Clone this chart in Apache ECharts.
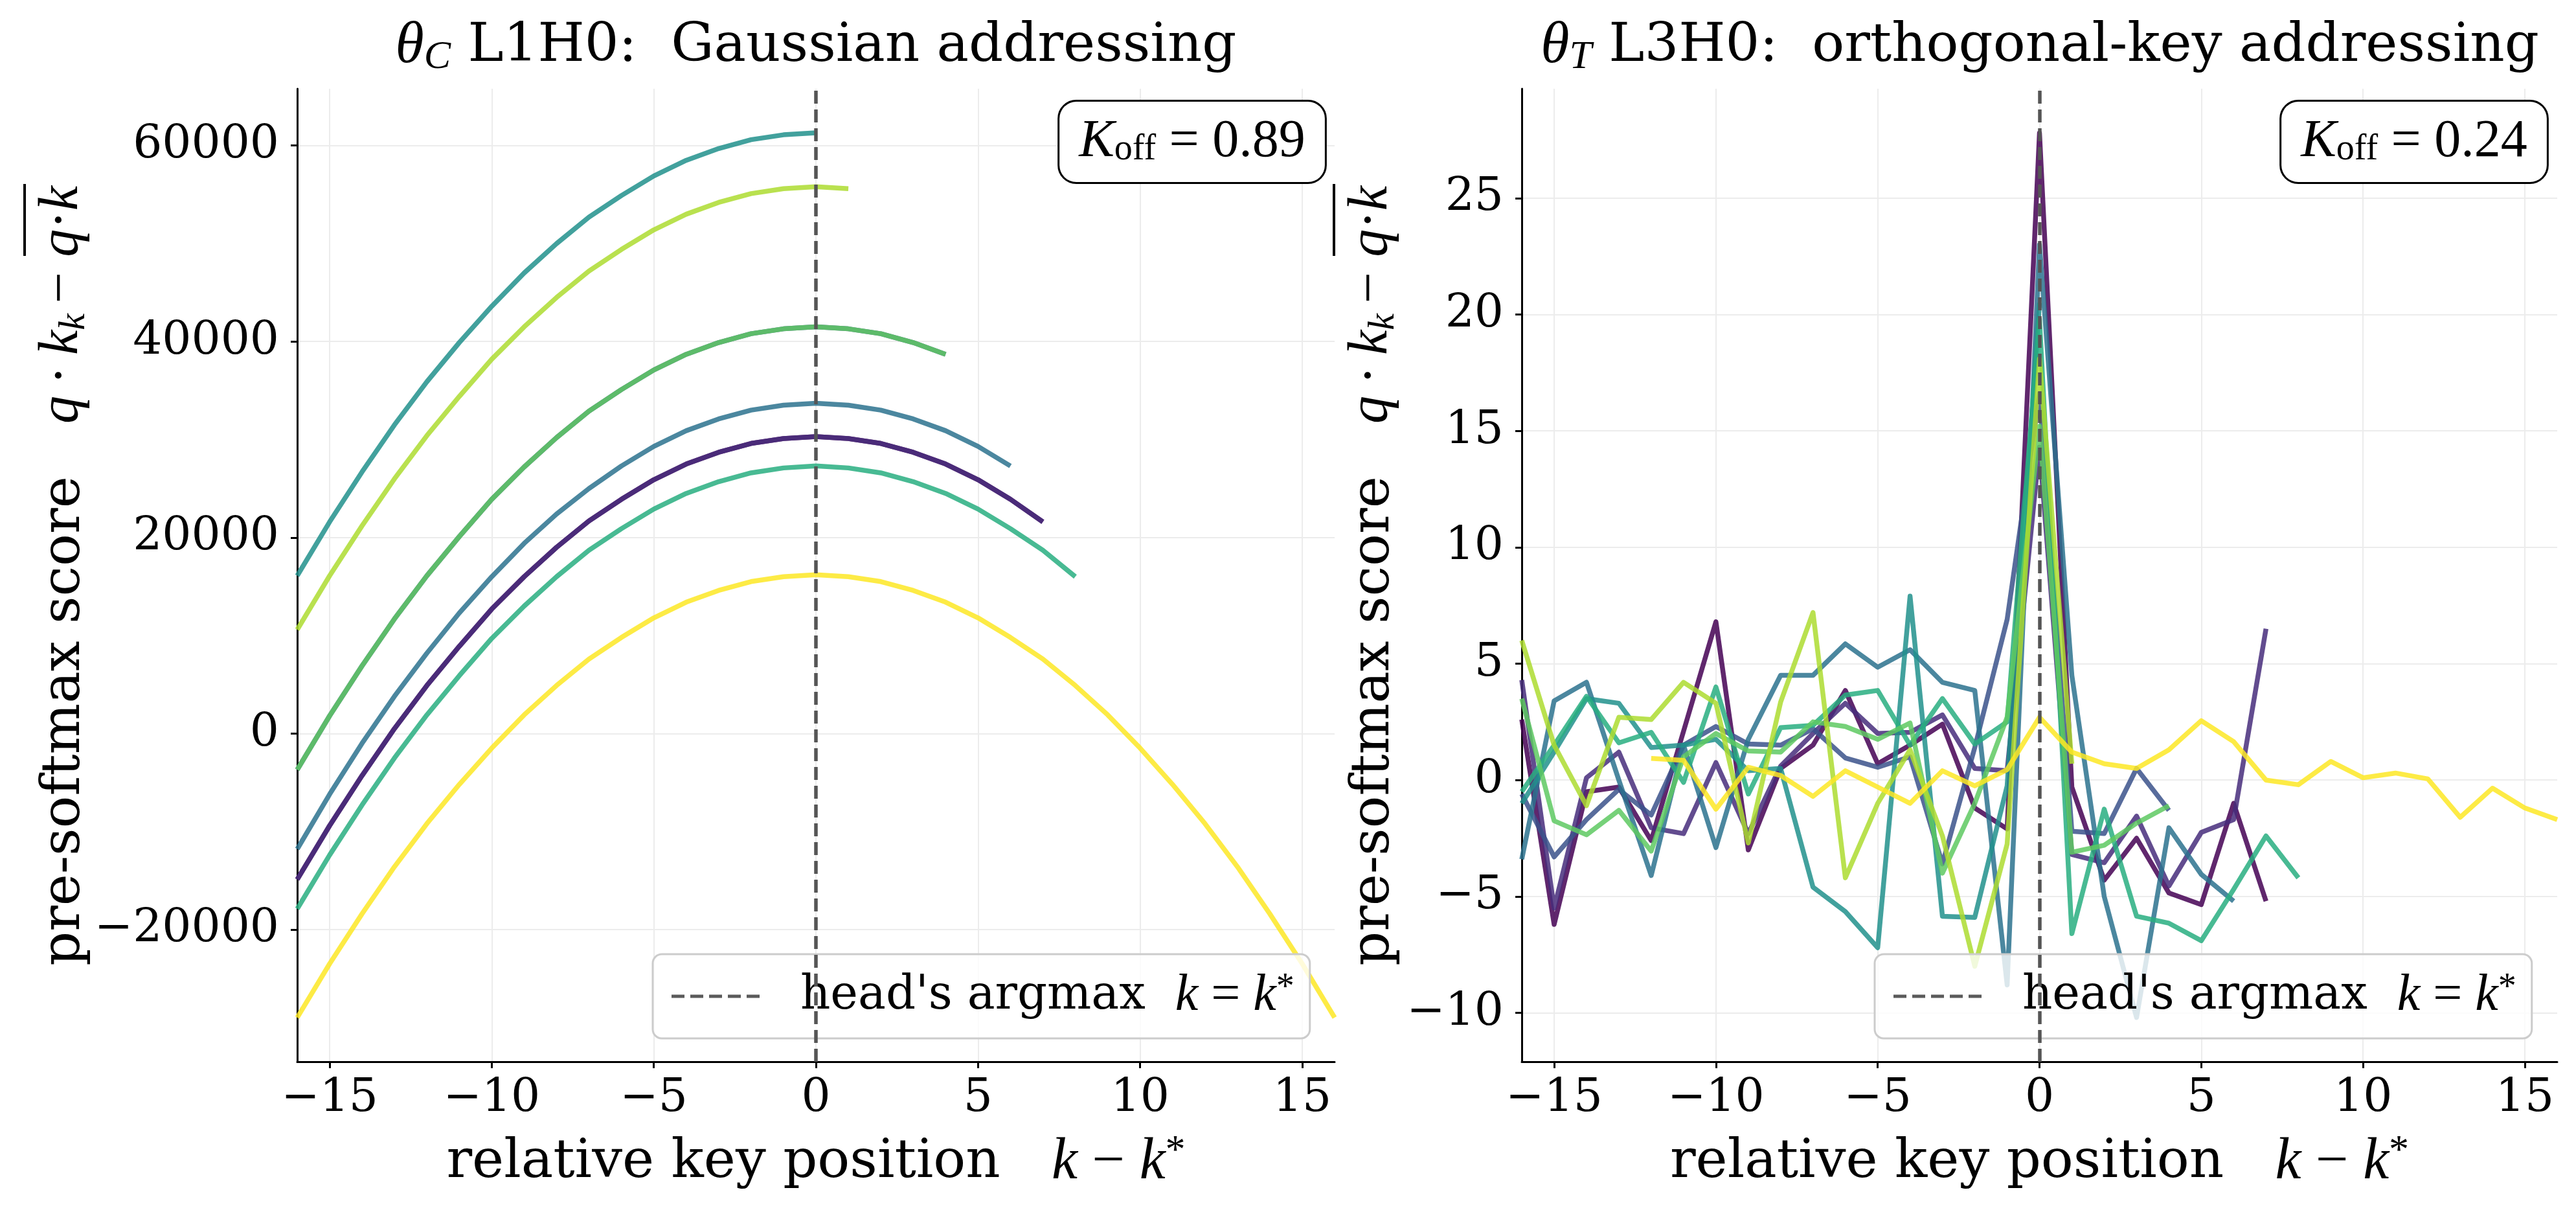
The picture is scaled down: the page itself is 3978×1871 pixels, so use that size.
<!DOCTYPE html>
<html>
<head>
<meta charset="UTF-8">
<script src="https://cdn.jsdelivr.net/npm/echarts@6/dist/echarts.min.js"></script>
<style>
  html, body { margin: 0; padding: 0; background: #fff; }
  #chart { width: 3978px; height: 1871px; }
</style>
</head>
<body>
<div id="chart"></div>
<script>
// relative key position k - k*
const keyPos = [-16,-15,-14,-13,-12,-11,-10,-9,-8,-7,-6,-5,-4,-3,-2,-1,0,1,2,3,4,5,6,7,8,9,10,11,12,13,14,15,16];
const argmaxPos = 0;

// left panel (theta_C L1H0), every curve starts at k-k* = -16
const leftC0 = [-14900,-9400,-4300,500,4900,8900,12700,16000,19000,21700,23900,25900,27500,28700,29600,30100,30300,30100,29600,28700,27500,25900,23900,21600];
const leftC1 = [-14900,-9400,-4300,500,4900,8900,12700,16000,19000,21700,23900,25900,27500,28700,29600,30100,30300,30100,29600,28700,27500,25900,23900,21600];
const leftC2 = [-3700,1800,6900,11700,16100,20100,23900,27200,30200,32900,35100,37100,38700,39900,40800,41300,41500,41300,40800,39900,38700];
const leftC3 = [-11800,-6200,-1000,3800,8200,12300,16000,19400,22400,25000,27300,29300,30900,32100,33000,33500,33700,33500,33000,32100,30900,29300,27300];
const leftC4 = [16100,21600,26700,31500,35900,39900,43600,47000,50000,52700,54900,56900,58500,59700,60600,61100,61300];
const leftC5 = [-17900,-12400,-7300,-2500,1900,5900,9700,13000,16000,18700,20900,22900,24500,25700,26600,27100,27300,27100,26600,25700,24500,22900,20900,18700,16000];
const leftC6 = [-3700,1800,6900,11700,16100,20100,23900,27200,30200,32900,35100,37100,38700,39900,40800,41300,41500,41300,40800,39900,38700];
const leftC7 = [10600,16100,21200,26000,30400,34400,38200,41500,44500,47200,49400,51400,53000,54200,55100,55600,55800,55600];
const leftC8 = [-29000,-23500,-18400,-13600,-9200,-5200,-1500,1900,4900,7600,9800,11800,13400,14600,15500,16000,16200,16000,15500,14600,13400,11800,9800,7600,4900,1900,-1500,-5200,-9200,-13600,-18400,-23500,-29000];
const leftStart = [-16,-16,-16,-16,-16,-16,-16,-16,-16];

// right panel (theta_T L3H0)
const rightC0 = [2.6,-6.2,-0.5,-0.3,-2.6,2.1,6.8,-3.0,0.5,1.5,3.85,0.7,1.5,2.4,-1.2,-2.1,27.8,-0.3,-4.3,-2.5,-4.85,-5.35,-1.0,-5.2];
const rightC1 = [4.3,-5.5,0.1,1.2,-2.05,-2.3,0.75,-2.3,0.6,2.0,3.3,2.0,2.05,2.8,0.5,0.4,14.3,-3.2,-3.55,-1.55,-4.55,-2.25,-1.7,6.5];
const rightC2 = [-0.6,-3.3,-1.7,-0.4,-1.5,1.5,2.3,1.55,1.5,2.2,0.95,0.55,1.0,-3.6,1.4,6.9,16.6,-2.2,-2.3,0.5,-1.3];
const rightC3 = [-3.4,3.4,4.2,0.0,-4.1,1.5,-2.9,1.75,4.5,4.5,5.85,4.85,5.6,4.2,3.85,-8.8,23.0,4.5,-5.0,-10.2,-2.05,-4.05,-5.2];
const rightC4 = [-1.0,1.2,3.5,3.3,1.4,1.5,1.75,0.4,0.5,-4.6,-5.65,-7.2,7.9,-5.85,-5.9,-0.25,20.5];
const rightC5 = [-0.5,1.5,3.6,1.6,2.05,-0.1,4.0,-0.6,2.25,2.35,3.65,3.85,1.5,3.5,1.55,2.5,19.8,-6.6,-1.25,-5.85,-6.15,-6.9,-4.7,-2.4,-4.2];
const rightC6 = [3.5,-1.75,-2.35,-1.3,-3.05,1.0,2.0,1.25,1.2,2.5,2.3,1.75,2.45,-4.0,-1.0,2.7,15.2,-3.1,-2.8,-1.85,-1.1];
const rightC7 = [6.0,1.5,-1.1,2.7,2.6,4.2,3.3,-2.7,3.35,7.2,-4.2,-1.0,1.3,-2.4,-8.0,-2.75,18.1,0.7];
const rightC8 = [0.93,0.85,-1.25,0.55,0.2,-0.7,0.4,-0.3,-1.0,0.4,-0.25,0.45,2.7,1.2,0.7,0.5,1.3,2.55,1.65,0.0,-0.2,0.8,0.1,0.3,0.05,-1.6,-0.35,-1.2,-1.7];
const rightStart = [-16,-16,-16,-16,-16,-16,-16,-16,-12];

const leftRange = [-33500, 65800];
const rightRange = [-12.1, 29.7];
const xRange = [-16, 16];
const kOff = ['0.89', '0.24'];

const colors = ['#440154','#472d7b','#3b528b','#2c728e','#21918c','#28ae80','#5ec962','#addc30','#fde725'];

const SERIF = 'DejaVu Serif';
const MATH = 'Liberation Serif';
const DASH_NAME = 'argmax';
const TS = '\u2009';

const rich = {
  t: { fontFamily: SERIF, fontSize: 83, color: '#000', lineHeight: 96 },
  m: { fontFamily: MATH, fontStyle: 'italic', fontSize: 90, color: '#000', lineHeight: 96 },
  r: { fontFamily: MATH, fontSize: 90, color: '#000', lineHeight: 96 },
  sub: { fontFamily: MATH, fontStyle: 'italic', fontSize: 62, color: '#000', lineHeight: 30, verticalAlign: 'bottom' },
  sup: { fontFamily: MATH, fontSize: 62, color: '#000', lineHeight: 40, verticalAlign: 'top' }
};
const yRich = {
  m: { fontFamily: MATH, fontStyle: 'italic', fontSize: 86, color: '#000', lineHeight: 96 },
  r: { fontFamily: MATH, fontSize: 86, color: '#000', lineHeight: 96 },
  sub: { fontFamily: MATH, fontStyle: 'italic', fontSize: 58, color: '#000', lineHeight: 30, verticalAlign: 'bottom' }
};
const smallRich = {
  t: { fontFamily: SERIF, fontSize: 72, color: '#000', lineHeight: 80 },
  m: { fontFamily: MATH, fontStyle: 'italic', fontSize: 80, color: '#000', lineHeight: 80 },
  r: { fontFamily: MATH, fontSize: 80, color: '#000', lineHeight: 80 },
  sup: { fontFamily: MATH, fontSize: 56, color: '#000', lineHeight: 30, verticalAlign: 'top' },
  gap: { width: 56 }
};
const boxRich = {
  m: { fontFamily: MATH, fontStyle: 'italic', fontSize: 82, color: '#000', lineHeight: 80 },
  r: { fontFamily: MATH, fontSize: 82, color: '#000', lineHeight: 80 },
  subr: { fontFamily: MATH, fontSize: 56, color: '#000', lineHeight: 22, verticalAlign: 'bottom' }
};

function pts(vals, first) {
  const i0 = keyPos.indexOf(first);
  return vals.map((v, i) => [keyPos[i0 + i], v]);
}

const minus = v => String(v).replace('-', '\u2212');

function makeX(idx) {
  return {
    type: 'value', gridIndex: idx, min: xRange[0], max: xRange[1], splitNumber: 5,
    name: '{t|relative key position}{t|   }{m|k}{r| \u2212 }{m|k}{sup|*}',
    nameLocation: 'middle', nameGap: 108,
    nameTextStyle: { rich: rich },
    axisLine: { onZero: false, lineStyle: { color: '#000', width: 3 } },
    axisTick: { length: 10, lineStyle: { color: '#000', width: 3 } },
    axisLabel: { fontFamily: SERIF, fontSize: 71, color: '#000', margin: 22,
      showMinLabel: false, showMaxLabel: false, formatter: minus },
    splitLine: { show: true, showMinLine: false, showMaxLine: false, lineStyle: { color: '#ececec', width: 2 } }
  };
}
function makeY(idx, range, split) {
  return {
    type: 'value', gridIndex: idx, min: range[0], max: range[1], splitNumber: split,
    axisLine: { show: true, onZero: false, lineStyle: { color: '#000', width: 3 } },
    axisTick: { show: true, length: 10, lineStyle: { color: '#000', width: 3 } },
    axisLabel: { fontFamily: SERIF, fontSize: 71, color: '#000', margin: 28,
      showMinLabel: false, showMaxLabel: false, formatter: minus },
    splitLine: { show: true, showMinLine: false, showMaxLine: false, lineStyle: { color: '#ececec', width: 2 } }
  };
}

const leftData = [leftC0, leftC1, leftC2, leftC3, leftC4, leftC5, leftC6, leftC7, leftC8];
const rightData = [rightC0, rightC1, rightC2, rightC3, rightC4, rightC5, rightC6, rightC7, rightC8];

const series = [];
function addCurves(data, starts, idx) {
  data.forEach((vals, i) => {
    series.push({
      type: 'line', xAxisIndex: idx, yAxisIndex: idx,
      data: pts(vals, starts[i]), symbol: 'none', silent: true,
      lineStyle: { color: colors[i], width: 7.5, opacity: 0.85, join: 'round' }
    });
  });
}
addCurves(leftData, leftStart, 0);
addCurves(rightData, rightStart, 1);
const dash = { color: '#555', width: 5.5, type: [20, 9] };
[0, 1].forEach(idx => {
  series.push({
    name: DASH_NAME, type: 'line', xAxisIndex: idx, yAxisIndex: idx, data: [],
    symbol: 'none', lineStyle: dash, z: 5,
    markLine: { silent: true, symbol: 'none', label: { show: false }, lineStyle: dash,
      emphasis: { disabled: true }, data: [{ xAxis: argmaxPos }] }
  });
});

// five short dashes for the legend key
const dashIcon = 'path://M0,0h20v5h-20z M29,0h20v5h-20z M58,0h20v5h-20z M87,0h20v5h-20z M116,0h20v5h-20z';
const legendText = '{gap|}{t|head\'s argmax}{t|  }{m|k}{r| = }{m|k}{sup|*}';
function makeLegend(left) {
  return {
    data: [{ name: DASH_NAME, icon: dashIcon, itemStyle: { color: '#5a5a5a' } }],
    left: left, top: 1473, selectedMode: false,
    itemWidth: 140, itemHeight: 5, padding: [25, 24, 25, 29],
    backgroundColor: 'rgba(255,255,255,0.8)', borderColor: '#cccccc', borderWidth: 3, borderRadius: 14,
    formatter: () => legendText, textStyle: { rich: smallRich }
  };
}

const yText = '{t|pre-softmax score}';
const yMathA = '{m|q}{r|' + TS + '\u00b7' + TS + '}{m|k}{sub|k}';
const yMinus = '{r|\u2212}';
const yMathB = '{m|q}{r|\u00b7}{m|k}';

function yLabel(x0) {
  const rot = Math.PI / 2;
  return [
    { type: 'text', x: x0 + 100, y: 1491, rotation: rot, style: { text: yText, rich: rich, align: 'left', verticalAlign: 'middle' } },
    { type: 'text', x: x0 + 96, y: 654, rotation: rot, style: { text: yMathA, rich: yRich, align: 'left', verticalAlign: 'middle' } },
    { type: 'text', x: x0 + 96, y: 444, rotation: rot, style: { text: yMinus, rich: yRich, align: 'center', verticalAlign: 'middle' } },
    { type: 'text', x: x0 + 96, y: 287, rotation: rot, style: { text: yMathB, rich: yRich, align: 'right', verticalAlign: 'middle' } },
    { type: 'line', shape: { x1: x0 + 38, y1: 284, x2: x0 + 38, y2: 395 }, style: { stroke: '#000', lineWidth: 4 } }
  ];
}

const chart = echarts.init(document.getElementById('chart'), null, { renderer: 'canvas' });
chart.setOption({
  animation: false,
  backgroundColor: '#fff',
  grid: [
    { left: 459, top: 137, width: 1602, height: 1502, outerBoundsMode: 'none' },
    { left: 2350, top: 137, width: 1599, height: 1502, outerBoundsMode: 'none' }
  ],
  xAxis: [makeX(0), makeX(1)],
  yAxis: [makeY(0, leftRange, 5), makeY(1, rightRange, 8)],
  legend: [makeLegend(1008), makeLegend(2895)],
  series: series,
  graphic: [
    { type: 'text', x: 1260, y: 72, style: { text: '{m|\u03b8}{sub|C}{t| L1H0:  Gaussian addressing}', rich: rich, align: 'center', verticalAlign: 'middle' } },
    { type: 'text', x: 3150, y: 72, style: { text: '{m|\u03b8}{sub|T}{t| L3H0:  orthogonal-key addressing}', rich: rich, align: 'center', verticalAlign: 'middle' } },
    ...yLabel(0),
    ...yLabel(2022),
    { type: 'text', x: 1841, y: 219, z: 10, style: { text: '{m|K}{subr|off}{r| = ' + kOff[0] + '}', rich: boxRich,
      align: 'center', verticalAlign: 'middle', backgroundColor: '#fff', borderColor: '#000', borderWidth: 3, borderRadius: 26, padding: [22, 30, 22, 30] } },
    { type: 'text', x: 3728, y: 219, z: 10, style: { text: '{m|K}{subr|off}{r| = ' + kOff[1] + '}', rich: boxRich,
      align: 'center', verticalAlign: 'middle', backgroundColor: '#fff', borderColor: '#000', borderWidth: 3, borderRadius: 26, padding: [22, 30, 22, 30] } }
  ]
});
</script>
</body>
</html>
